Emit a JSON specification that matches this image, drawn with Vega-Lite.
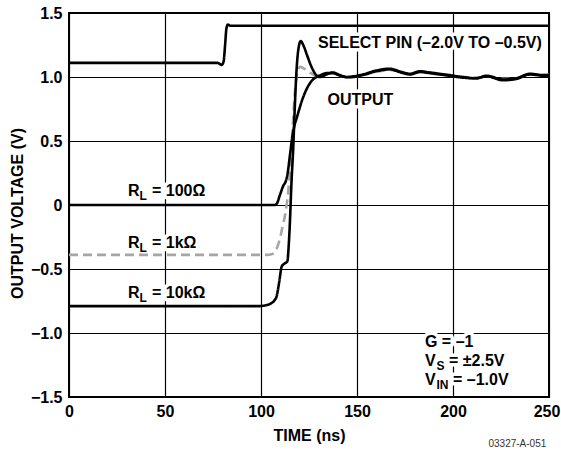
{
  "$schema": "https://vega.github.io/schema/vega-lite/v6.json",
  "width": 480,
  "height": 384,
  "autosize": {"type": "none"},
  "padding": {"left": 69, "top": 13, "right": 12, "bottom": 56},
  "background": "white",
  "config": {
    "font": "Liberation Sans",
    "view": {"stroke": "black", "strokeWidth": 2},
    "axis": {
      "labelFont": "Liberation Sans", "labelFontWeight": "bold", "labelFontSize": 16, "labelColor": "black",
      "titleFont": "Liberation Sans", "titleFontWeight": "bold", "titleFontSize": 16, "titleColor": "black",
      "ticks": false, "domain": false, "grid": true, "gridColor": "black", "gridWidth": 1.2, "gridOpacity": 1,
      "labelOverlap": false, "labelFlush": false
    }
  },
  "datasets": {
    "curves": [
      {"s": "select", "t": 0, "v": 1.11}, {"s": "select", "t": 77.5, "v": 1.11}, {"s": "select", "t": 79.5, "v": 1.095},
      {"s": "select", "t": 80.5, "v": 1.12}, {"s": "select", "t": 81.3, "v": 1.25}, {"s": "select", "t": 82, "v": 1.38},
      {"s": "select", "t": 82.8, "v": 1.41}, {"s": "select", "t": 84, "v": 1.4}, {"s": "select", "t": 250, "v": 1.4},

      {"s": "1k", "t": 0, "v": -0.39}, {"s": "1k", "t": 103, "v": -0.39}, {"s": "1k", "t": 105.5, "v": -0.385},
      {"s": "1k", "t": 107, "v": -0.37}, {"s": "1k", "t": 108.2, "v": -0.34}, {"s": "1k", "t": 109.9, "v": -0.26},
      {"s": "1k", "t": 111.2, "v": -0.17}, {"s": "1k", "t": 112.5, "v": -0.08}, {"s": "1k", "t": 114.2, "v": 0.11},
      {"s": "1k", "t": 115.5, "v": 0.34}, {"s": "1k", "t": 116.5, "v": 0.6}, {"s": "1k", "t": 117.5, "v": 0.85},
      {"s": "1k", "t": 118.5, "v": 1.0}, {"s": "1k", "t": 119.5, "v": 1.06}, {"s": "1k", "t": 120.3, "v": 1.08},
      {"s": "1k", "t": 122, "v": 1.07}, {"s": "1k", "t": 124, "v": 1.05}, {"s": "1k", "t": 126, "v": 1.03},
      {"s": "1k", "t": 128, "v": 1.01}, {"s": "1k", "t": 130, "v": 1.0}, {"s": "1k", "t": 134, "v": 1.025},
      {"s": "1k", "t": 137.5, "v": 1.03}, {"s": "1k", "t": 141, "v": 1.01}, {"s": "1k", "t": 144.6, "v": 1.0},
      {"s": "1k", "t": 148, "v": 1.0}, {"s": "1k", "t": 153, "v": 1.015}, {"s": "1k", "t": 160, "v": 1.04},
      {"s": "1k", "t": 167, "v": 1.055}, {"s": "1k", "t": 173, "v": 1.04}, {"s": "1k", "t": 177.6, "v": 1.02},
      {"s": "1k", "t": 182.8, "v": 1.04}, {"s": "1k", "t": 188, "v": 1.03}, {"s": "1k", "t": 198, "v": 1.01},
      {"s": "1k", "t": 205, "v": 1.0}, {"s": "1k", "t": 212, "v": 0.995}, {"s": "1k", "t": 217.6, "v": 1.005},
      {"s": "1k", "t": 226, "v": 0.985}, {"s": "1k", "t": 233, "v": 0.99}, {"s": "1k", "t": 240, "v": 1.02},
      {"s": "1k", "t": 247, "v": 1.015}, {"s": "1k", "t": 250, "v": 1.02},

      {"s": "100", "t": 0, "v": 0}, {"s": "100", "t": 107, "v": 0}, {"s": "100", "t": 108.2, "v": 0.01},
      {"s": "100", "t": 109.9, "v": 0.08}, {"s": "100", "t": 111.6, "v": 0.15}, {"s": "100", "t": 113, "v": 0.19},
      {"s": "100", "t": 114, "v": 0.26}, {"s": "100", "t": 115, "v": 0.38}, {"s": "100", "t": 116.2, "v": 0.52},
      {"s": "100", "t": 117.4, "v": 0.62}, {"s": "100", "t": 118.6, "v": 0.68}, {"s": "100", "t": 121.2, "v": 0.81},
      {"s": "100", "t": 124.6, "v": 0.93}, {"s": "100", "t": 127, "v": 0.98}, {"s": "100", "t": 129, "v": 1.0},
      {"s": "100", "t": 131, "v": 1.015}, {"s": "100", "t": 134, "v": 1.03}, {"s": "100", "t": 137.5, "v": 1.03},
      {"s": "100", "t": 141, "v": 1.012}, {"s": "100", "t": 144.6, "v": 0.998}, {"s": "100", "t": 148, "v": 1.0},
      {"s": "100", "t": 153, "v": 1.015}, {"s": "100", "t": 160, "v": 1.045}, {"s": "100", "t": 167, "v": 1.06},
      {"s": "100", "t": 173, "v": 1.035}, {"s": "100", "t": 177.6, "v": 1.02}, {"s": "100", "t": 182.8, "v": 1.04},
      {"s": "100", "t": 188, "v": 1.03}, {"s": "100", "t": 198, "v": 1.01}, {"s": "100", "t": 205, "v": 0.995},
      {"s": "100", "t": 212, "v": 0.99}, {"s": "100", "t": 217.6, "v": 1.005}, {"s": "100", "t": 226, "v": 0.975},
      {"s": "100", "t": 233, "v": 0.985}, {"s": "100", "t": 240, "v": 1.02}, {"s": "100", "t": 247, "v": 1.01},
      {"s": "100", "t": 250, "v": 1.01},

      {"s": "10k", "t": 0, "v": -0.79}, {"s": "10k", "t": 99, "v": -0.79}, {"s": "10k", "t": 102, "v": -0.785},
      {"s": "10k", "t": 105, "v": -0.77}, {"s": "10k", "t": 107, "v": -0.745}, {"s": "10k", "t": 108.2, "v": -0.71},
      {"s": "10k", "t": 109.5, "v": -0.6}, {"s": "10k", "t": 110.8, "v": -0.48}, {"s": "10k", "t": 112, "v": -0.46},
      {"s": "10k", "t": 113.7, "v": -0.44}, {"s": "10k", "t": 114.5, "v": -0.3}, {"s": "10k", "t": 115.1, "v": -0.12},
      {"s": "10k", "t": 115.8, "v": 0.15}, {"s": "10k", "t": 116.8, "v": 0.45}, {"s": "10k", "t": 117.7, "v": 0.8},
      {"s": "10k", "t": 118.5, "v": 1.05}, {"s": "10k", "t": 119.5, "v": 1.22}, {"s": "10k", "t": 120.7, "v": 1.28},
      {"s": "10k", "t": 122, "v": 1.25}, {"s": "10k", "t": 124, "v": 1.17}, {"s": "10k", "t": 126, "v": 1.09},
      {"s": "10k", "t": 128, "v": 1.03}, {"s": "10k", "t": 129.5, "v": 1.005}, {"s": "10k", "t": 131, "v": 1.0},
      {"s": "10k", "t": 134, "v": 1.02}, {"s": "10k", "t": 137.5, "v": 1.035}, {"s": "10k", "t": 141, "v": 1.015},
      {"s": "10k", "t": 144.6, "v": 1.0}, {"s": "10k", "t": 148, "v": 1.005}, {"s": "10k", "t": 153, "v": 1.02},
      {"s": "10k", "t": 160, "v": 1.05}, {"s": "10k", "t": 167, "v": 1.065}, {"s": "10k", "t": 173, "v": 1.04},
      {"s": "10k", "t": 177.6, "v": 1.025}, {"s": "10k", "t": 182.8, "v": 1.045}, {"s": "10k", "t": 188, "v": 1.035},
      {"s": "10k", "t": 198, "v": 1.015}, {"s": "10k", "t": 205, "v": 1.0}, {"s": "10k", "t": 212, "v": 0.99},
      {"s": "10k", "t": 217.6, "v": 1.01}, {"s": "10k", "t": 226, "v": 0.98}, {"s": "10k", "t": 233, "v": 0.99},
      {"s": "10k", "t": 240, "v": 1.025}, {"s": "10k", "t": 247, "v": 1.015}, {"s": "10k", "t": 250, "v": 1.015}
    ],
    "labels": [
      {"part": "plain", "t": 129.7, "v": 1.226, "text": "SELECT PIN (–2.0V TO –0.5V)"},
      {"part": "plain", "t": 134.6, "v": 0.78, "text": "OUTPUT"},
      {"part": "plain", "t": 185.4, "v": -1.112, "text": "G = –1"},
      {"part": "main", "t": 30.7, "v": 0.07, "text": "R"},
      {"part": "sub", "t": 30.7, "v": 0.07, "text": "L"},
      {"part": "rest", "t": 30.7, "v": 0.07, "text": "= 100Ω"},
      {"part": "main", "t": 30.7, "v": -0.337, "text": "R"},
      {"part": "sub", "t": 30.7, "v": -0.337, "text": "L"},
      {"part": "rest", "t": 30.7, "v": -0.337, "text": "= 1kΩ"},
      {"part": "main", "t": 30.7, "v": -0.73, "text": "R"},
      {"part": "sub", "t": 30.7, "v": -0.73, "text": "L"},
      {"part": "rest", "t": 30.7, "v": -0.73, "text": "= 10kΩ"},
      {"part": "main", "t": 185.4, "v": -1.255, "text": "V"},
      {"part": "sub", "t": 185.4, "v": -1.255, "text": "S"},
      {"part": "rest", "t": 185.4, "v": -1.255, "text": "= ±2.5V"},
      {"part": "main", "t": 185.4, "v": -1.403, "text": "V"},
      {"part": "sub", "t": 185.4, "v": -1.403, "text": "IN"},
      {"part": "rest2", "t": 185.4, "v": -1.403, "text": "= –1.0V"}
    ]
  },
  "layer": [
    {
      "data": {"name": "labels"},
      "transform": [{"filter": "datum.part == 'plain'"}],
      "mark": {"type": "text", "align": "left", "baseline": "alphabetic", "fontSize": 16, "fontWeight": "bold", "stroke": "white", "strokeWidth": 7, "strokeJoin": "round", "fill": "white"},
      "encoding": {
        "x": {"field": "t", "type": "quantitative", "scale": {"domain": [0, 250], "nice": false, "zero": false},
          "axis": {"values": [0, 50, 100, 150, 200, 250], "title": "TIME (ns)", "labelPadding": 6, "titlePadding": 8,
            "labelOffset": {"condition": {"test": "datum.value == 250", "value": -2.5}, "value": 0}}},
        "y": {"field": "v", "type": "quantitative", "scale": {"domain": [-1.5, 1.5], "nice": false, "zero": false},
          "axis": {"values": [-1.5, -1, -0.5, 0, 0.5, 1, 1.5], "title": "OUTPUT VOLTAGE (V)", "labelPadding": 7, "titlePadding": 5, "titleY": 200,
            "labelExpr": "datum.value == 0 ? '0' : replace(format(datum.value, '.1f'), '-', '–')"}},
        "text": {"field": "text"}
      }
    },
    {
      "data": {"name": "labels"},
      "transform": [{"filter": "datum.part == 'main'"}],
      "mark": {"type": "text", "align": "left", "baseline": "alphabetic", "fontSize": 16, "fontWeight": "bold", "stroke": "white", "strokeWidth": 7, "strokeJoin": "round", "fill": "white"},
      "encoding": {"x": {"field": "t", "type": "quantitative"}, "y": {"field": "v", "type": "quantitative"}, "text": {"field": "text"}}
    },
    {
      "data": {"name": "labels"},
      "transform": [{"filter": "datum.part == 'sub'"}],
      "mark": {"type": "text", "align": "left", "baseline": "alphabetic", "fontSize": 12, "fontWeight": "bold", "dx": 11.5, "dy": 4, "stroke": "white", "strokeWidth": 7, "strokeJoin": "round", "fill": "white"},
      "encoding": {"x": {"field": "t", "type": "quantitative"}, "y": {"field": "v", "type": "quantitative"}, "text": {"field": "text"}}
    },
    {
      "data": {"name": "labels"},
      "transform": [{"filter": "datum.part == 'rest'"}],
      "mark": {"type": "text", "align": "left", "baseline": "alphabetic", "fontSize": 16, "fontWeight": "bold", "dx": 24, "stroke": "white", "strokeWidth": 7, "strokeJoin": "round", "fill": "white"},
      "encoding": {"x": {"field": "t", "type": "quantitative"}, "y": {"field": "v", "type": "quantitative"}, "text": {"field": "text"}}
    },
    {
      "data": {"name": "labels"},
      "transform": [{"filter": "datum.part == 'rest2'"}],
      "mark": {"type": "text", "align": "left", "baseline": "alphabetic", "fontSize": 16, "fontWeight": "bold", "dx": 28, "stroke": "white", "strokeWidth": 7, "strokeJoin": "round", "fill": "white"},
      "encoding": {"x": {"field": "t", "type": "quantitative"}, "y": {"field": "v", "type": "quantitative"}, "text": {"field": "text"}}
    },
    {
      "data": {"name": "labels"},
      "transform": [{"filter": "datum.part == 'plain'"}],
      "mark": {"type": "text", "align": "left", "baseline": "alphabetic", "fontSize": 16, "fontWeight": "bold", "fill": "black"},
      "encoding": {"x": {"field": "t", "type": "quantitative"}, "y": {"field": "v", "type": "quantitative"}, "text": {"field": "text"}}
    },
    {
      "data": {"name": "labels"},
      "transform": [{"filter": "datum.part == 'main'"}],
      "mark": {"type": "text", "align": "left", "baseline": "alphabetic", "fontSize": 16, "fontWeight": "bold", "fill": "black"},
      "encoding": {"x": {"field": "t", "type": "quantitative"}, "y": {"field": "v", "type": "quantitative"}, "text": {"field": "text"}}
    },
    {
      "data": {"name": "labels"},
      "transform": [{"filter": "datum.part == 'sub'"}],
      "mark": {"type": "text", "align": "left", "baseline": "alphabetic", "fontSize": 12, "fontWeight": "bold", "dx": 11.5, "dy": 4, "fill": "black"},
      "encoding": {"x": {"field": "t", "type": "quantitative"}, "y": {"field": "v", "type": "quantitative"}, "text": {"field": "text"}}
    },
    {
      "data": {"name": "labels"},
      "transform": [{"filter": "datum.part == 'rest'"}],
      "mark": {"type": "text", "align": "left", "baseline": "alphabetic", "fontSize": 16, "fontWeight": "bold", "dx": 24, "fill": "black"},
      "encoding": {"x": {"field": "t", "type": "quantitative"}, "y": {"field": "v", "type": "quantitative"}, "text": {"field": "text"}}
    },
    {
      "data": {"name": "labels"},
      "transform": [{"filter": "datum.part == 'rest2'"}],
      "mark": {"type": "text", "align": "left", "baseline": "alphabetic", "fontSize": 16, "fontWeight": "bold", "dx": 28, "fill": "black"},
      "encoding": {"x": {"field": "t", "type": "quantitative"}, "y": {"field": "v", "type": "quantitative"}, "text": {"field": "text"}}
    },
    {
      "data": {"values": [{"t": 248.6, "v": -1.5, "text": "03327-A-051"}]},
      "mark": {"type": "text", "align": "right", "baseline": "alphabetic", "fontSize": 10, "dy": 50, "fill": "#333333"},
      "encoding": {"x": {"field": "t", "type": "quantitative"}, "y": {"field": "v", "type": "quantitative"}, "text": {"field": "text"}}
    },
    {
      "data": {"name": "curves"},
      "mark": {"type": "line", "strokeWidth": 2.6, "interpolate": "monotone", "strokeJoin": "round"},
      "encoding": {
        "x": {"field": "t", "type": "quantitative"},
        "y": {"field": "v", "type": "quantitative"},
        "color": {"field": "s", "type": "nominal", "legend": null,
          "scale": {"domain": ["select", "1k", "100", "10k"], "range": ["black", "#a6a6a6", "black", "black"]}},
        "strokeDash": {"field": "s", "type": "nominal", "legend": null,
          "scale": {"domain": ["select", "1k", "100", "10k"], "range": [[1, 0], [9, 5], [1, 0], [1, 0]]}}
      }
    }
  ]
}
